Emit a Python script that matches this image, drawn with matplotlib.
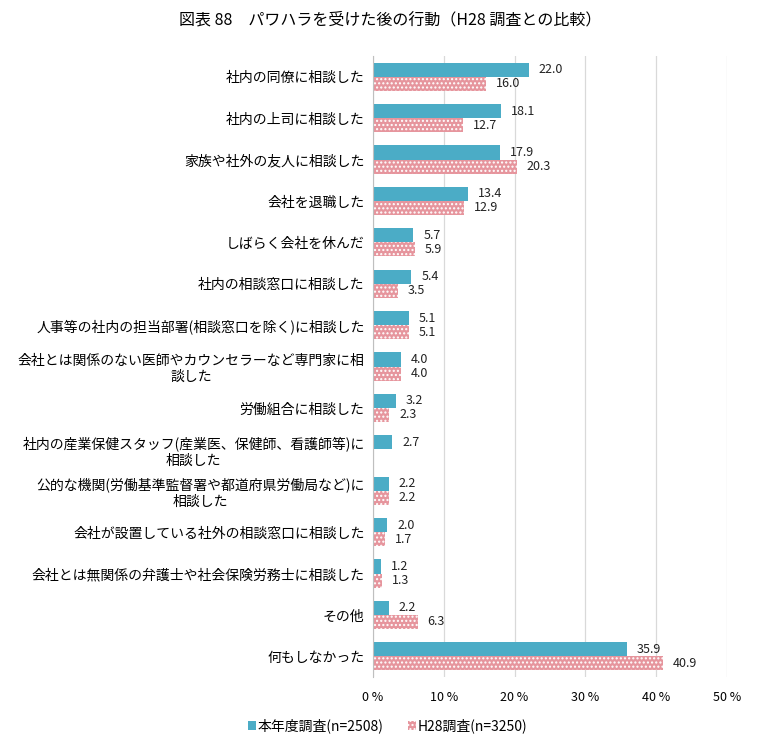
import numpy as np
import matplotlib
matplotlib.use("Agg")
import matplotlib.pyplot as plt

plt.rcParams['font.family'] = ['Noto Sans CJK JP', 'DejaVu Sans']
plt.rcParams['hatch.linewidth'] = 1.0

# data
categories = [
    "社内の同僚に相談した",
    "社内の上司に相談した",
    "家族や社外の友人に相談した",
    "会社を退職した",
    "しばらく会社を休んだ",
    "社内の相談窓口に相談した",
    "人事等の社内の担当部署(相談窓口を除く)に相談した",
    "会社とは関係のない医師やカウンセラーなど専門家に相\n談した",
    "労働組合に相談した",
    "社内の産業保健スタッフ(産業医、保健師、看護師等)に\n相談した",
    "公的な機関(労働基準監督署や都道府県労働局など)に\n相談した",
    "会社が設置している社外の相談窓口に相談した",
    "会社とは無関係の弁護士や社会保険労務士に相談した",
    "その他",
    "何もしなかった",
]
current = [22.0, 18.1, 17.9, 13.4, 5.7, 5.4, 5.1, 4.0, 3.2, 2.7, 2.2, 2.0, 1.2, 2.2, 35.9]
h28 = [16.0, 12.7, 20.3, 12.9, 5.9, 3.5, 5.1, 4.0, 2.3, None, 2.2, 1.7, 1.3, 6.3, 40.9]
xticks = [0, 10, 20, 30, 40, 50]
legend_labels = ["本年度調査(n=2508)", "H28調査(n=3250)"]
title = "図表 88　パワハラを受けた後の行動（H28 調査との比較）"

blue = "#4bacc6"
pink = "#e6959d"

fig = plt.figure(figsize=(7.8, 7.55), dpi=100)
ax = fig.add_axes([373 / 780, 1 - 677 / 755, (727 - 373) / 780, (677 - 56) / 755])

y = np.arange(len(categories))
bh = 0.34

cur_bars = ax.barh(y - bh / 2, current, height=bh, color=blue, label=legend_labels[0], zorder=3)
h28_vals = [v if v is not None else 0 for v in h28]
h28_bars = ax.barh(y + bh / 2, h28_vals, height=bh, color=pink, edgecolor="white",
                   linewidth=0, hatch="....", label=legend_labels[1], zorder=3)

for yi, v in zip(y, current):
    ax.text(v + 1.4, yi - bh / 2, f"{v:.1f}", va="center", ha="left", fontsize=9, color="#222222")
for yi, v in zip(y, h28):
    if v is None:
        continue
    ax.text(v + 1.4, yi + bh / 2, f"{v:.1f}", va="center", ha="left", fontsize=9, color="#222222")

ax.set_xlim(0, 50)
ax.set_ylim(len(categories) - 0.5, -0.5)
ax.set_xticks(xticks)
ax.set_xticklabels([f"{t} %" for t in xticks], fontsize=9)
ax.set_yticks(y)
ax.set_yticklabels(categories, fontsize=10, multialignment="center")
ax.tick_params(axis="both", length=0, pad=10)
ax.tick_params(axis="y", pad=6)

ax.grid(axis="x", color="#d9d9d9", linewidth=0.9, zorder=0)
for s in ["top", "right", "bottom"]:
    ax.spines[s].set_visible(False)
ax.spines["left"].set_color("#bfbfbf")
ax.spines["left"].set_zorder(4)

fig.text(0.5, 1 - 20 / 755, title, ha="center", va="center", fontsize=11.5)

leg = fig.legend(handles=[cur_bars, h28_bars], labels=legend_labels, loc="center left",
                 bbox_to_anchor=(235 / 780, 1 - 726 / 755), ncol=2, frameon=False,
                 fontsize=10, handlelength=0.6, handleheight=0.6, handletextpad=0.1,
                 columnspacing=1.8)

fig.savefig("out.png", dpi=100)
